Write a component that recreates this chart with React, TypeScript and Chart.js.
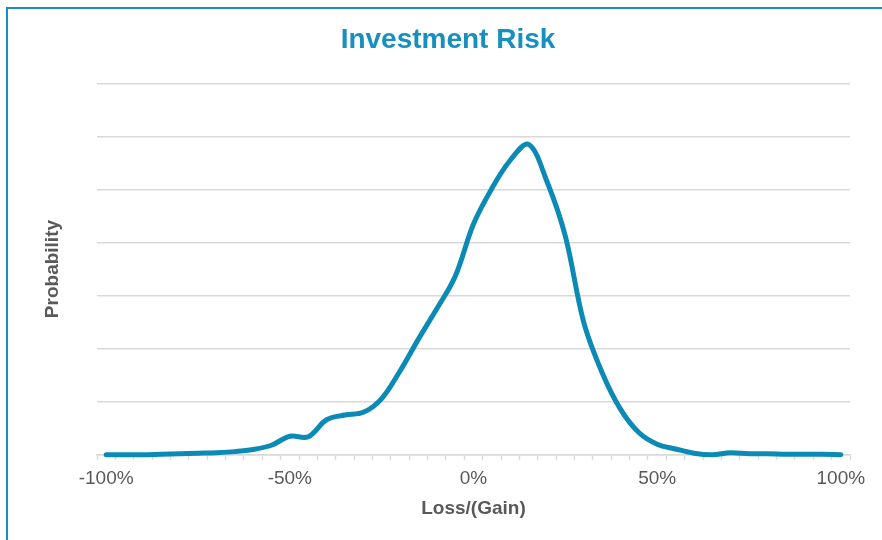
import React, { useEffect, useRef } from "react";
import { Chart, registerables } from "chart.js";

Chart.register(...registerables);

const chartTitle = "Investment Risk";
const xAxisTitle = "Loss/(Gain)";
const yAxisTitle = "Probability";

// Loss/(Gain) in percent
const lossGainPct = [
  -100, -95, -90, -85, -80, -75, -70, -65, -60, -55, -50, -45, -40, -35, -30, -25, -20, -15, -10, -5,
  0, 5, 10, 15, 20, 25, 30, 35, 40, 45, 50, 55, 60, 65, 70, 75, 80, 85, 90, 95, 100,
];

// Relative probability (axis has no labels)
const probability = [
  0.0, 0.0, 0.0, 0.01, 0.02, 0.03, 0.04, 0.06, 0.1, 0.18, 0.35, 0.34, 0.66, 0.75, 0.8, 1.06, 1.58, 2.18, 2.75, 3.36,
  4.35, 5.02, 5.55, 5.85, 5.15, 4.12, 2.5, 1.55, 0.86, 0.42, 0.2, 0.11, 0.03, 0.0, 0.04, 0.02, 0.02, 0.01, 0.01, 0.01, 0.0,
];

const xLabelValues = [-100, -50, 0, 50, 100];
const yMax = 7;

const TEAL = "#0b8ab6";
const GRID = "#d9d9d9";
const TEXT = "#595959";

export default function App() {
  const canvasRef = useRef<HTMLCanvasElement | null>(null);

  useEffect(() => {
    document.body.style.margin = "0";
    document.body.style.overflow = "hidden";
    const canvas = canvasRef.current;
    if (!canvas) return;
    Chart.defaults.font.family = '"Liberation Sans", Arial, sans-serif';

    const points = lossGainPct.map((x, i) => ({ x, y: probability[i] }));
    const step = lossGainPct[1] - lossGainPct[0];
    const xMin = lossGainPct[0] - step / 2;
    const xMax = lossGainPct[lossGainPct.length - 1] + step / 2;

    const chart = new Chart(canvas, {
      type: "line",
      data: {
        datasets: [
          {
            data: points,
            borderColor: TEAL,
            borderWidth: 5,
            pointRadius: 0,
            tension: 0.35,
            fill: false,
            borderCapStyle: "round",
            borderJoinStyle: "round",
            clip: 6,
          },
        ],
      },
      options: {
        animation: false,
        responsive: false,
        maintainAspectRatio: false,
        layout: { padding: { left: 14, right: 0, top: 0, bottom: 15.6 } },
        plugins: {
          legend: { display: false },
          tooltip: { enabled: false },
          title: {
            display: true,
            text: chartTitle,
            color: "#1890bf",
            font: { size: 28, weight: "bold" },
            padding: { top: 23, bottom: 26.7 },
          },
        },
        scales: {
          x: {
            type: "linear",
            min: xMin,
            max: xMax,
            afterBuildTicks: (scale: any) => {
              const ticks: any[] = [];
              const half = step / 2;
              for (let v = xMin; v <= xMax + 1e-6; v += half) {
                ticks.push({ value: Math.round(v * 100) / 100 });
              }
              scale.ticks = ticks;
            },
            ticks: {
              autoSkip: false,
              maxRotation: 0,
              minRotation: 0,
              padding: 7.5,
              color: TEXT,
              font: { size: 19 },
              callback: (value: any) => (xLabelValues.includes(Number(value)) ? `${value}%` : ""),
            },
            grid: {
              drawOnChartArea: false,
              drawTicks: true,
              tickLength: 5,
              tickWidth: 1.5,
              tickColor: (ctx: any) => {
                const v = ctx.tick ? ctx.tick.value : 0;
                const k = (v - xMin) / step;
                return Math.abs(k - Math.round(k)) < 1e-6 ? GRID : "rgba(0,0,0,0)";
              },
            },
            border: { display: true, color: GRID, width: 1.5 },
            title: {
              display: true,
              text: xAxisTitle,
              color: TEXT,
              font: { size: 19, weight: "bold" },
              padding: { top: 0, bottom: 4 },
            },
          },
          y: {
            type: "linear",
            min: 0,
            max: yMax,
            ticks: { display: false, stepSize: 1 },
            grid: { color: GRID, lineWidth: 1.5, drawTicks: false },
            border: { display: false },
            title: {
              display: true,
              text: yAxisTitle,
              color: TEXT,
              font: { size: 19, weight: "bold" },
              padding: { top: 27, bottom: 0 },
            },
            afterFit: (scale: any) => {
              scale.width = 83;
            },
          },
          yRight: {
            type: "linear",
            position: "right",
            display: true,
            ticks: { display: false },
            grid: { display: false },
            border: { display: false },
            afterFit: (scale: any) => {
              scale.width = 32;
            },
          },
        },
      },
    });

    return () => chart.destroy();
  }, []);

  return (
    <div style={{ position: "relative", width: 882, height: 540, overflow: "hidden", background: "#fff" }}>
      <canvas ref={canvasRef} width={882} height={540} style={{ position: "absolute", left: 0, top: 0 }} />
      <div
        style={{
          position: "absolute",
          left: 6,
          top: 7,
          width: 900,
          height: 600,
          borderLeft: "2px solid #1a8dbd",
          borderTop: "2px solid #1a8dbd",
          pointerEvents: "none",
        }}
      />
    </div>
  );
}
